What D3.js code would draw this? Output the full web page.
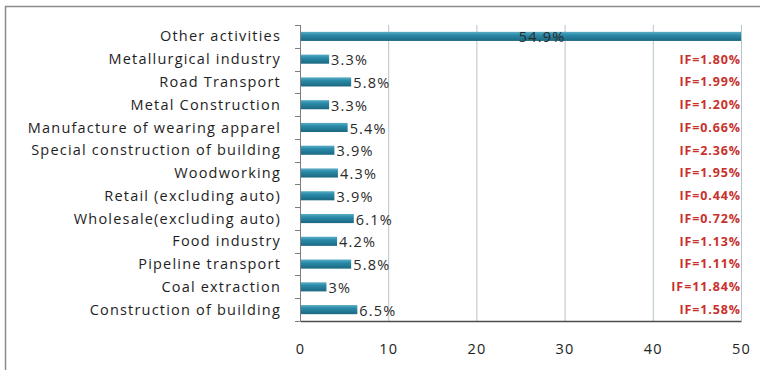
<!DOCTYPE html>
<html>
<head>
<meta charset="utf-8">
<script src="https://cdn.jsdelivr.net/npm/d3@7"></script>
<style>
  html, body { margin: 0; padding: 0; background: #fff; }
  svg { display: block; font-family: "Open Sans", sans-serif; }
</style>
</head>
<body>
<svg id="chart" width="760" height="370"></svg>
<script>
// Share of employment by activity, with injury frequency (IF) per activity
const categories = [
  "Other activities",
  "Metallurgical industry",
  "Road Transport",
  "Metal Construction",
  "Manufacture of wearing apparel",
  "Special construction of building",
  "Woodworking",
  "Retail (excluding auto)",
  "Wholesale(excluding auto)",
  "Food industry",
  "Pipeline transport",
  "Coal extraction",
  "Construction of building"
];
const shares = [54.9, 3.3, 5.8, 3.3, 5.4, 3.9, 4.3, 3.9, 6.1, 4.2, 5.8, 3, 6.5];
const shareLabels = ["54.9%", "3.3%", "5.8%", "3.3%", "5.4%", "3.9%", "4.3%", "3.9%", "6.1%", "4.2%", "5.8%", "3%", "6.5%"];
const ifLabels = ["IF=1.80%", "IF=1.99%", "IF=1.20%", "IF=0.66%", "IF=2.36%", "IF=1.95%",
                  "IF=0.44%", "IF=0.72%", "IF=1.13%", "IF=1.11%", "IF=11.84%", "IF=1.58%"];
const xTicks = [0, 10, 20, 30, 40, 50];

const svg = d3.select("#chart");
const plotL = 300, plotR = 741, plotT = 25, plotB = 321;

const x = d3.scaleLinear().domain([0, 50]).range([plotL, plotR]);
const y = d3.scaleBand().domain(categories).range([plotT, plotB]).paddingInner(0.6).paddingOuter(0.3);
const band = d3.scaleBand().domain(categories).range([plotT, plotB]);

// outer frame (top and left edges visible)
svg.append("line").attr("x1", 5).attr("x2", 760).attr("y1", 6.5).attr("y2", 6.5)
  .attr("stroke", "#8a8a8a").attr("stroke-width", 1.5);
svg.append("line").attr("x1", 5.5).attr("x2", 5.5).attr("y1", 6).attr("y2", 370)
  .attr("stroke", "#8a8a8a").attr("stroke-width", 1.5);

// bar gradient
const defs = svg.append("defs");
const grad = defs.append("linearGradient").attr("id", "barGrad")
  .attr("x1", 0).attr("y1", 0).attr("x2", 0).attr("y2", 1);
grad.append("stop").attr("offset", "0%").attr("stop-color", "#5aadc6");
grad.append("stop").attr("offset", "35%").attr("stop-color", "#2a8ba9");
grad.append("stop").attr("offset", "100%").attr("stop-color", "#1b6780");
defs.append("clipPath").attr("id", "plotClip").append("rect")
  .attr("x", plotL).attr("y", plotT - 5).attr("width", plotR - plotL).attr("height", plotB - plotT + 10);

// vertical gridlines
svg.append("g").selectAll("line").data(xTicks.filter(d => d > 0)).join("line")
  .attr("x1", d => x(d) + 0.5).attr("x2", d => x(d) + 0.5)
  .attr("y1", plotT).attr("y2", plotB)
  .attr("stroke", "#b7c3cc").attr("stroke-width", 1);

// bars
svg.append("g").attr("clip-path", "url(#plotClip)")
  .selectAll("rect").data(categories).join("rect")
  .attr("x", x(0))
  .attr("y", d => y(d))
  .attr("width", (d, i) => x(shares[i]) - x(0))
  .attr("height", y.bandwidth())
  .attr("fill", "url(#barGrad)");

// left axis with ticks between categories
const yAxisG = svg.append("g");
yAxisG.append("line").attr("x1", plotL + 0.5).attr("x2", plotL + 0.5).attr("y1", plotT).attr("y2", plotB)
  .attr("stroke", "#7d7d7d");
const boundaries = categories.map(c => band(c)).concat([plotB]);
yAxisG.selectAll("line.tick").data(boundaries).join("line").attr("class", "tick")
  .attr("x1", plotL - 5).attr("x2", plotL).attr("y1", d => Math.round(d) + 0.5).attr("y2", d => Math.round(d) + 0.5)
  .attr("stroke", "#7d7d7d");

// category labels
svg.append("g").selectAll("text").data(categories).join("text")
  .attr("x", 281)
  .attr("y", d => band(d) + band.bandwidth() / 2)
  .attr("dy", "0.35em")
  .attr("text-anchor", "end")
  .attr("font-size", 14.5)
  .attr("letter-spacing", 1.2)
  .attr("fill", "#1e1e1e")
  .text(d => d);

// bottom axis
const xAxis = d3.axisBottom(x).tickValues(xTicks).tickSize(0).tickPadding(23).tickFormat(d3.format("d"));
const xg = svg.append("g").attr("transform", `translate(0,${plotB})`).call(xAxis);
xg.select(".domain").attr("stroke", "#4d4d4d").attr("stroke-width", 1.3);
xg.selectAll("text").attr("font-size", 14.5).attr("letter-spacing", 1.2)
  .attr("fill", "#222").attr("font-family", "Open Sans, sans-serif");

// value labels
svg.append("g").selectAll("text").data(categories).join("text")
  .attr("x", (d, i) => shares[i] > 50 ? x(shares[i] / 2) : x(shares[i]) + 2)
  .attr("y", d => y(d) + y.bandwidth() / 2 + 1)
  .attr("dy", "0.35em")
  .attr("text-anchor", (d, i) => shares[i] > 50 ? "middle" : "start")
  .attr("font-size", 14.5)
  .attr("letter-spacing", 1.2)
  .attr("fill", "#2a2a2a")
  .text((d, i) => shareLabels[i]);

// injury-frequency annotations
svg.append("g").selectAll("text").data(ifLabels).join("text")
  .attr("x", plotR)
  .attr("y", (d, i) => band(categories[i + 1]) + band.bandwidth() / 2)
  .attr("dy", "0.35em")
  .attr("text-anchor", "end")
  .attr("font-size", 12.5)
  .attr("letter-spacing", 0.9)
  .attr("font-weight", "bold")
  .attr("fill", "#c9302c")
  .text(d => d);
</script>
</body>
</html>
